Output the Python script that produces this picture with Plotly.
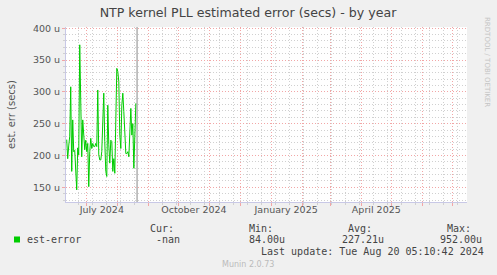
import plotly.graph_objects as go

# ---------------- data ----------------
dates = [
    "2024-06-11", "2024-06-12", "2024-06-13", "2024-06-14", "2024-06-15", "2024-06-16",
    "2024-06-17", "2024-06-18", "2024-06-19", "2024-06-20", "2024-06-21", "2024-06-22",
    "2024-06-23", "2024-06-24", "2024-06-25", "2024-06-26", "2024-06-27", "2024-06-28",
    "2024-06-29", "2024-06-30", "2024-07-01", "2024-07-02", "2024-07-03", "2024-07-04",
    "2024-07-05", "2024-07-06", "2024-07-07", "2024-07-08", "2024-07-09", "2024-07-10",
    "2024-07-11", "2024-07-12", "2024-07-13", "2024-07-14", "2024-07-15", "2024-07-16",
    "2024-07-17", "2024-07-18", "2024-07-19", "2024-07-20", "2024-07-21", "2024-07-22",
    "2024-07-23", "2024-07-24", "2024-07-25", "2024-07-26", "2024-07-27", "2024-07-28",
    "2024-07-29", "2024-07-30", "2024-07-31", "2024-08-01", "2024-08-02", "2024-08-03",
    "2024-08-04", "2024-08-05", "2024-08-06", "2024-08-07", "2024-08-08", "2024-08-09",
    "2024-08-10", "2024-08-11", "2024-08-12", "2024-08-13", "2024-08-14", "2024-08-15",
    "2024-08-16", "2024-08-17", "2024-08-18", "2024-08-19",
]
est_error = [
    225, 195, 215, 230, 308, 175,
    256, 206, 208, 185, 146, 212,
    201, 374, 290, 198, 256, 232,
    209, 224, 206, 219, 151, 206,
    227, 211, 219, 214, 214, 219,
    214, 303, 201, 193, 193, 206,
    250, 298, 222, 175, 167, 279,
    217, 188, 224, 222, 175, 195,
    172, 248, 337, 332, 316, 232,
    211, 279, 298, 269, 217, 203,
    203, 206, 198, 243, 274, 232,
    250, 180, 250, 282,
]

series_name = "est-error"
stat_cur = "-nan"
stat_min = "84.00u"
stat_avg = "227.21u"
stat_max = "952.00u"
last_update = "2024-08-20 05:10:42"
last_update_text = "Last update: Tue Aug 20 05:10:42 2024"

y_ticks = [150, 200, 250, 300, 350, 400]
y_tick_labels = [f"{v} u" for v in y_ticks]
x_label_dates = ["2024-07-16", "2024-10-16", "2025-01-16", "2025-04-16"]
x_labels = ["July 2024", "October 2024", "January 2025", "April 2025"]

title = "NTP kernel PLL estimated error (secs) - by year"
y_title = "est. err (secs)"

# ---------------- layout constants ----------------
W, H = 497, 275
L, R, T, B = 66, 30, 27, 73
PW, PH = W - L - R, H - T - B
x_range = ["2024-06-10 07:00", "2025-07-15 12:00"]
y_range = [126.9, 402]

RED = "#f2a6a6"
GRAY = "#d0d0d0"
AXIS = "#c8c8e6"
DASH = "1px,2px"
MONO = "DejaVu Sans Mono"
SANS = "DejaVu Sans"


def px(x):
    return (x - L) / PW


def py(y):
    return (H - B - y) / PH


fig = go.Figure()
fig.add_trace(go.Scatter(
    x=dates, y=est_error, mode="lines", name=series_name,
    line=dict(color="#00cc00", width=1), showlegend=False,
))
fig.add_trace(go.Scatter(x=[x_range[0]], y=[None], xaxis="x2", showlegend=False,
                         hoverinfo="skip"))

fig.update_layout(
    width=W, height=H,
    margin=dict(l=L, r=R, t=T, b=B, pad=0, autoexpand=False),
    paper_bgcolor="#f0f0f0", plot_bgcolor="#ffffff",
    showlegend=False,
    title=dict(text=title, x=248 / W, xref="container", xanchor="center",
               y=1 - 13 / H, yref="container", yanchor="middle",
               font=dict(family=SANS, size=12.6, color="#444444")),
    xaxis=dict(
        type="date", range=x_range, tickmode="linear", dtick="M1",
        tick0="2024-07-01", showticklabels=False, ticks="outside", ticklen=3,
        tickcolor=RED, showgrid=True, gridcolor=RED, griddash=DASH, gridwidth=1,
        zeroline=False, showline=True, linecolor=AXIS, linewidth=1, automargin=False,
        minor=dict(dtick=14 * 86400000, tick0="2024-09-15", showgrid=True,
                   gridcolor=GRAY, griddash=DASH, gridwidth=1, ticks="outside",
                   ticklen=2, tickcolor=GRAY),
    ),
    xaxis2=dict(
        type="date", range=x_range, overlaying="x", anchor="y", side="bottom",
        tickmode="array", tickvals=x_label_dates, ticktext=x_labels, ticks="",
        showgrid=False, zeroline=False, showline=False, automargin=False,
        tickfont=dict(family=SANS, size=9.5, color="#555555"),
    ),
    yaxis=dict(
        range=y_range, tickmode="array", tickvals=y_ticks, ticktext=y_tick_labels,
        showgrid=True, gridcolor=RED, griddash=DASH, gridwidth=1,
        ticks="outside", ticklen=3, tickcolor=RED, zeroline=False,
        showline=True, linecolor=AXIS, linewidth=1, automargin=False,
        tickfont=dict(family=SANS, size=9.5, color="#555555"),
        title=dict(text=y_title, font=dict(family=SANS, size=10, color="#555555"),
                   standoff=15),
        minor=dict(dtick=10, tick0=0, showgrid=True, gridcolor=GRAY, griddash=DASH,
                   gridwidth=1, ticks="outside", ticklen=2, tickcolor=GRAY),
    ),
)

# "now" rule at last update
fig.add_shape(type="line", xref="x", yref="paper", x0=last_update, x1=last_update,
              y0=0, y1=1, line=dict(color="#888888", width=1))

# legend block
def txt(s, x, y, size=10, color="#444444", family=MONO, anchor="left", angle=0):
    fig.add_annotation(text=s, x=px(x), y=py(y), xref="paper", yref="paper",
                       xanchor=anchor, yanchor="middle", showarrow=False,
                       textangle=angle, borderpad=0,
                       font=dict(family=family, size=size, color=color))

txt("Cur:", 149, 228)
txt("Min:", 248, 228)
txt("Avg:", 347, 228)
txt("Max:", 446, 228)
txt(series_name, 26, 239.5)
txt(stat_cur, 155, 239.5)
txt(stat_min, 248, 239.5)
txt(stat_avg, 341, 239.5)
txt(stat_max, 439, 239.5)
txt(last_update_text, 260, 251.5)
txt("Munin 2.0.73", 248, 264.5, size=8, color="#bbbbbb", family=SANS, anchor="center")
txt("RRDTOOL / TOBI OETIKER", 487, 62, size=7, color="#c4c4c4", family=SANS,
    anchor="center", angle=90)

fig.add_shape(type="rect", xref="paper", yref="paper", x0=px(14), x1=px(20),
              y0=py(242.5), y1=py(236.5), line=dict(width=0), fillcolor="#00cc00")

fig.write_html("out.html")
